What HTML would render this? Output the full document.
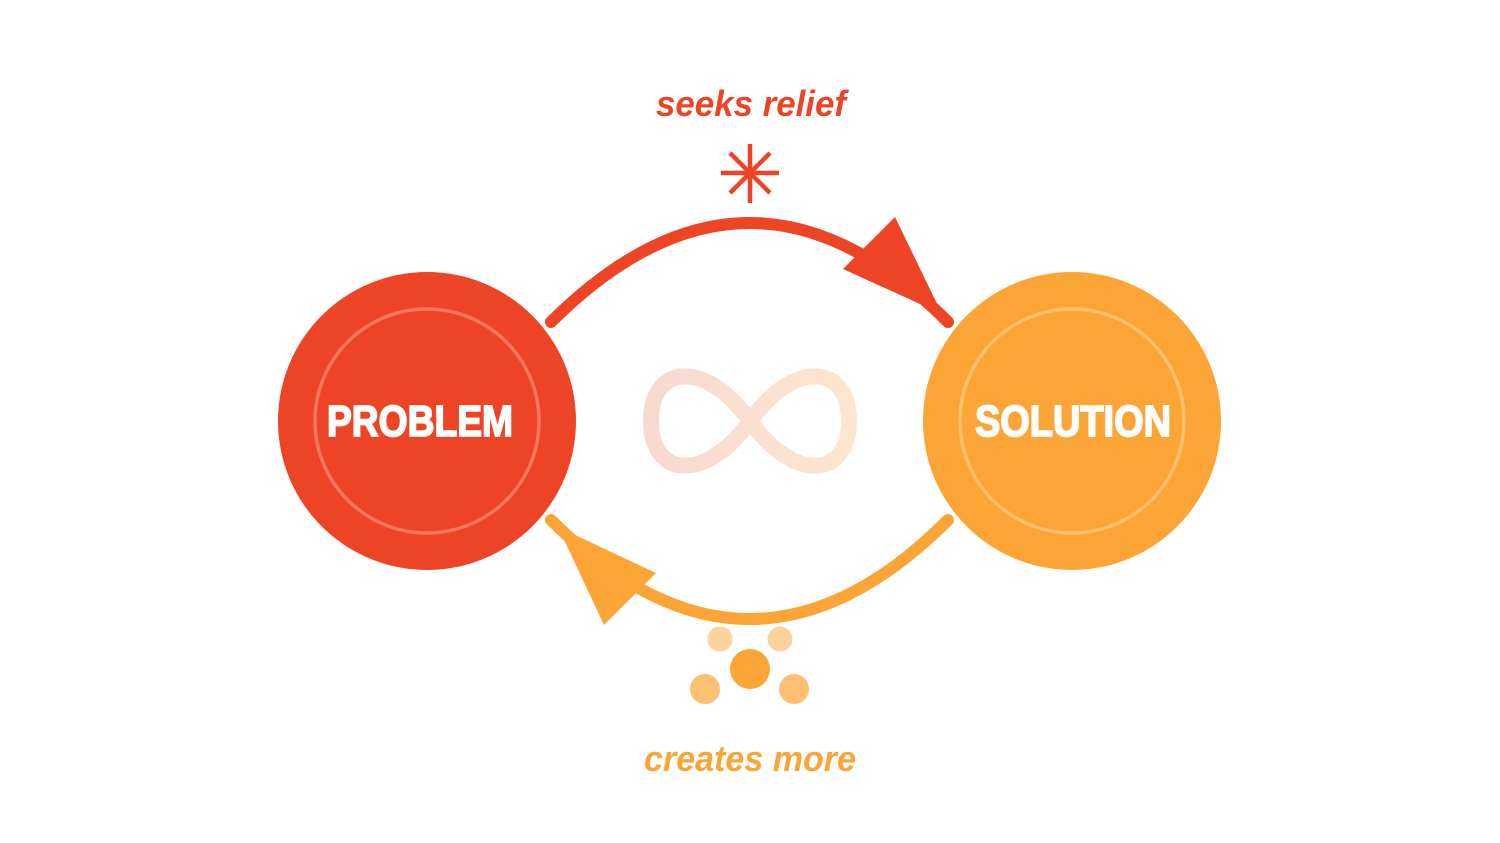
<!DOCTYPE html>
<html><head><meta charset="utf-8"><style>html,body{margin:0;padding:0;background:#fff}svg{display:block}</style></head>
<body>
<svg width="1500" height="843" viewBox="0 0 1500 843" xmlns="http://www.w3.org/2000/svg">
<defs>
<linearGradient id="g" x1="0" x2="1" y1="0" y2="0"><stop offset="0" stop-color="#f8d9d0"/><stop offset="1" stop-color="#fde6cf"/></linearGradient>
</defs>
<rect width="1500" height="843" fill="#fff"/>
<circle cx="427" cy="421" r="149" fill="#ed4425"/>
<circle cx="427" cy="421" r="112" fill="none" stroke="#f4765c" stroke-width="3.5"/>
<circle cx="1072" cy="421" r="149" fill="#fca537"/>
<circle cx="1072" cy="421" r="112" fill="none" stroke="#fdc070" stroke-width="3.5"/>
<text x="420" y="436" fill="#fff" stroke="#fff" stroke-width="1.8" font-family="Liberation Sans, sans-serif" font-weight="bold" font-size="44" text-anchor="middle" textLength="186" lengthAdjust="spacingAndGlyphs">PROBLEM</text>
<text x="1073" y="436" fill="#fff" stroke="#fff" stroke-width="1.8" font-family="Liberation Sans, sans-serif" font-weight="bold" font-size="44" text-anchor="middle" textLength="196" lengthAdjust="spacingAndGlyphs">SOLUTION</text>
<path d="M551,322 Q750,124 948,322" fill="none" stroke="#ed4425" stroke-width="12" stroke-linecap="round"/>
<polygon points="895,217 843,269 942,314" fill="#ed4425"/>
<path d="M948,520 Q750,718 551,520" fill="none" stroke="#fca537" stroke-width="12" stroke-linecap="round"/>
<polygon points="604,625 656,573 558,527" fill="#fca537"/>
<path d="M750,421 C795,358 849,365 849,421 C849,477 795,484 750,421 C705,358 651,365 651,421 C651,477 705,484 750,421Z" fill="none" stroke="url(#g)" stroke-width="16"/>
<g stroke="#ed4425" stroke-width="4.5">
<line x1="750" y1="144" x2="750" y2="203"/><line x1="721" y1="173" x2="779" y2="173"/>
<line x1="730" y1="153" x2="770" y2="193"/><line x1="770" y1="153" x2="730" y2="193"/>
</g>
<circle cx="720" cy="639" r="12.5" fill="#fdd29b"/>
<circle cx="780" cy="639" r="12.5" fill="#fdd29b"/>
<circle cx="750" cy="669" r="20" fill="#fca537"/>
<circle cx="705" cy="689" r="15" fill="#fdbf71"/>
<circle cx="794" cy="689" r="15" fill="#fdbf71"/>
<text x="751" y="116" fill="#ed4425" font-family="Liberation Sans, sans-serif" font-weight="bold" font-style="italic" font-size="36" text-anchor="middle" textLength="190" lengthAdjust="spacingAndGlyphs">seeks relief</text>
<text x="750" y="771" fill="#fca537" font-family="Liberation Sans, sans-serif" font-weight="bold" font-style="italic" font-size="36" text-anchor="middle" textLength="212" lengthAdjust="spacingAndGlyphs">creates more</text>
</svg>
</body></html>
